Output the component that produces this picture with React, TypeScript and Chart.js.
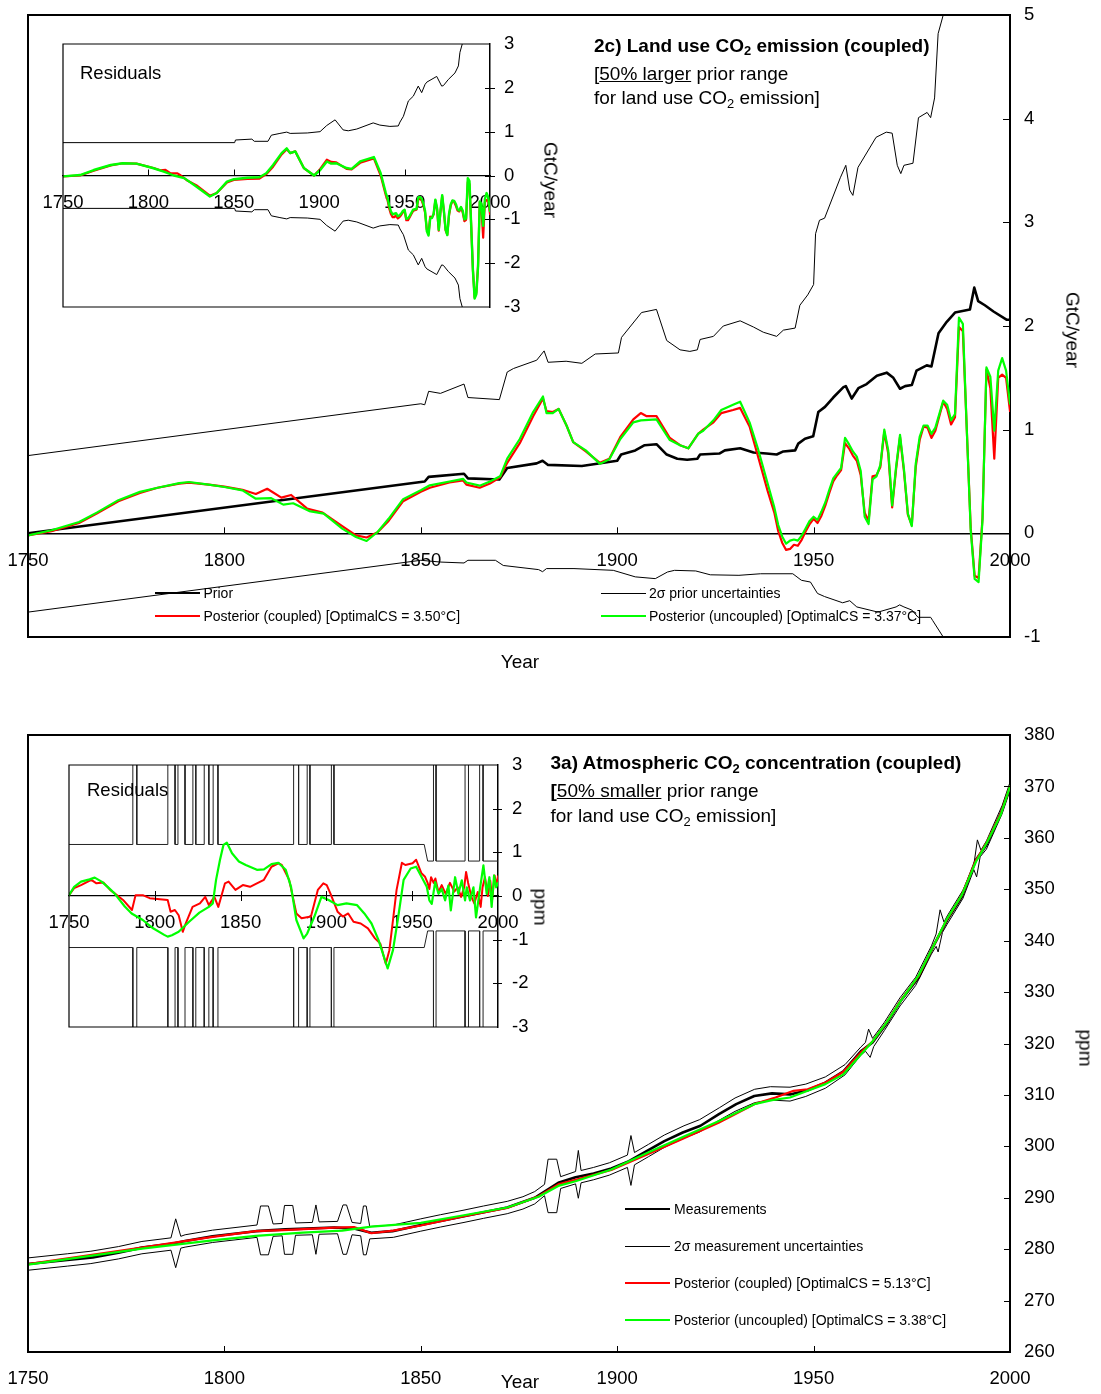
import React, { useEffect, useRef } from "react";
import { Chart, registerables } from "chart.js";

Chart.register(...registerables);

const FONT = "'Liberation Sans', Arial, Helvetica, sans-serif";
const RED = "#ff0000";
const GREEN = "#00ff00";
const BLACK = "#000000";

// ---------- tick labels ----------
const yearTicks = [1750, 1800, 1850, 1900, 1950, 2000];
const emisTicks = [-1, 0, 1, 2, 3, 4, 5];
const residTicks = [-3, -2, -1, 0, 1, 2, 3];
const ppmTicks = [260, 270, 280, 290, 300, 310, 320, 330, 340, 350, 360, 370, 380];

// ---------- 2c) land use CO2 emission (GtC/year) ----------
const emisPriorYears = [1750, 1850, 1851, 1852, 1861, 1862, 1870, 1872, 1879.5, 1881, 1882.4, 1891, 1900, 1901, 1904.6, 1907, 1910, 1912.6, 1915.3, 1917.8, 1920.4, 1921.1, 1926, 1927.4, 1931.3, 1934.7, 1938, 1940.6, 1942.3, 1945.3, 1946.1, 1947.8, 1949.9, 1951.2, 1952.9, 1955, 1957.6, 1958.2, 1959.7, 1961.4, 1963.5, 1966.1, 1968.6, 1970.3, 1972, 1973.3, 1975, 1976.2, 1978.8, 1980, 1981.8, 1983.9, 1986, 1989.8, 1990.9, 1991.9, 1993.6, 1995.8, 1999.2, 2000];
const emisPriorValues = [0, 0.495, 0.5, 0.545, 0.575, 0.53, 0.52, 0.63, 0.675, 0.7, 0.66, 0.65, 0.7, 0.76, 0.8, 0.85, 0.86, 0.76, 0.72, 0.71, 0.72, 0.76, 0.77, 0.8, 0.82, 0.78, 0.77, 0.76, 0.79, 0.8, 0.865, 0.913, 0.936, 1.17, 1.22, 1.31, 1.41, 1.42, 1.3, 1.4, 1.44, 1.52, 1.55, 1.5, 1.395, 1.42, 1.43, 1.57, 1.62, 1.61, 1.93, 2.04, 2.13, 2.16, 2.37, 2.24, 2.2, 2.14, 2.06, 2.06];

const emisUpperYears = [1750, 1850, 1851, 1852, 1855, 1861, 1862, 1870, 1872, 1873.6, 1879.5, 1881.4, 1882.4, 1887, 1891, 1894.4, 1900.3, 1901.1, 1906.2, 1910, 1912.6, 1916, 1918.5, 1920.4, 1921.1, 1924.5, 1927, 1931.3, 1934.7, 1937.2, 1940.6, 1942.3, 1945.3, 1946.5, 1948.5, 1950, 1950.5, 1951.5, 1952.8, 1956.8, 1958.2, 1959.2, 1960, 1961.3, 1965.9, 1968.5, 1970, 1971.3, 1972.2, 1973, 1975.3, 1976.7, 1978.9, 1979.8, 1980.8, 1981.7, 1983, 1985];
const emisUpperValues = [0.75, 1.25, 1.24, 1.37, 1.35, 1.44, 1.31, 1.29, 1.556, 1.59, 1.67, 1.76, 1.65, 1.66, 1.64, 1.73, 1.74, 1.89, 2.13, 2.16, 1.86, 1.77, 1.755, 1.77, 1.87, 1.9, 2.0, 2.05, 1.99, 1.94, 1.9, 1.96, 1.98, 2.2, 2.3, 2.4, 2.89, 3.02, 3.04, 3.43, 3.55, 3.31, 3.26, 3.53, 3.82, 3.87, 3.86, 3.55, 3.47, 3.55, 3.57, 4.01, 4.06, 4.01, 4.2, 4.82, 5.0, 5.3];

const emisLowerYears = [1750, 1850, 1855, 1861, 1862, 1869, 1871, 1880, 1881, 1882, 1889, 1899, 1904.6, 1909.7, 1912.8, 1914.6, 1920, 1923.7, 1931, 1936.5, 1944.7, 1946.9, 1949.2, 1951, 1952.8, 1957.4, 1959.2, 1961, 1966.4, 1971, 1971.9, 1973, 1975, 1976.6, 1979.8, 1980.3, 1983, 1985];
const emisLowerValues = [-0.76, -0.26, -0.277, -0.286, -0.26, -0.26, -0.31, -0.35, -0.37, -0.34, -0.34, -0.357, -0.42, -0.437, -0.373, -0.357, -0.363, -0.4, -0.405, -0.39, -0.39, -0.453, -0.47, -0.58, -0.61, -0.67, -0.65, -0.71, -0.76, -0.71, -0.69, -0.71, -0.74, -0.81, -0.81, -0.84, -1.0, -1.2];

const emisGreenYears = [1750, 1756, 1763, 1767.5, 1773, 1778.5, 1783, 1788.5, 1791, 1796, 1800, 1804.6, 1808, 1811.8, 1815, 1817.5, 1821.6, 1825.3, 1830, 1833.5, 1836.2, 1839, 1841.8, 1845.5, 1850, 1852.3, 1857.3, 1860.8, 1861.6, 1865, 1867.6, 1870.2, 1872, 1875.2, 1878.6, 1881.1, 1882, 1883.6, 1885.1, 1887.1, 1888.8, 1892, 1895.6, 1898, 1900.8, 1904.1, 1906, 1910, 1913.4, 1916, 1918.1, 1920.6, 1921.9, 1924.5, 1926.5, 1929.5, 1931.3, 1933.7, 1935.8, 1938.3];
const emisGreenValues = [-0.02, 0.03, 0.11, 0.2, 0.32, 0.4, 0.44, 0.485, 0.495, 0.47, 0.447, 0.415, 0.334, 0.34, 0.277, 0.29, 0.215, 0.19, 0.045, -0.035, -0.074, 0.013, 0.14, 0.33, 0.415, 0.463, 0.5, 0.525, 0.49, 0.46, 0.5, 0.55, 0.72, 0.91, 1.17, 1.32, 1.16, 1.16, 1.2, 1.04, 0.88, 0.8, 0.67, 0.715, 0.91, 1.07, 1.09, 1.1, 0.9, 0.85, 0.82, 0.96, 0.99, 1.09, 1.19, 1.24, 1.27, 1.07, 0.82, 0.48];

const emisRedYears = [1750, 1756, 1763, 1767.5, 1773, 1778.5, 1783, 1788.5, 1791, 1796, 1800, 1804.6, 1808, 1810.9, 1814.5, 1817, 1821, 1825, 1830, 1833.5, 1836.2, 1839, 1841.8, 1845.5, 1850, 1852.3, 1857.3, 1860.8, 1861.6, 1865, 1867.6, 1870.2, 1872, 1875.2, 1878.6, 1881.1, 1882, 1883.6, 1885.1, 1887.1, 1888.8, 1892, 1895.6, 1898, 1900.8, 1904.1, 1906, 1907.5, 1910, 1913.4, 1916, 1918.1, 1920.6, 1921.9, 1924.5, 1926.5, 1929.5, 1931.3, 1933.7, 1935.8, 1938.3];
const emisRedValues = [-0.02, 0.02, 0.1, 0.19, 0.31, 0.39, 0.44, 0.48, 0.49, 0.47, 0.45, 0.42, 0.38, 0.43, 0.344, 0.37, 0.24, 0.2, 0.07, -0.02, -0.04, 0.01, 0.12, 0.31, 0.4, 0.44, 0.49, 0.51, 0.47, 0.44, 0.48, 0.54, 0.68, 0.87, 1.13, 1.3, 1.18, 1.17, 1.2, 1.04, 0.88, 0.79, 0.68, 0.72, 0.93, 1.1, 1.16, 1.13, 1.13, 0.92, 0.85, 0.82, 0.96, 1.0, 1.07, 1.16, 1.19, 1.21, 1.03, 0.75, 0.41];

// annual values from 1940 onwards
const lateYears = [1940, 1941, 1942, 1943, 1944, 1945, 1946, 1947, 1948, 1949, 1950, 1951, 1952, 1953, 1954, 1955, 1956, 1957, 1958, 1959, 1960, 1961, 1962, 1963, 1964, 1965, 1966, 1967, 1968, 1969, 1970, 1971, 1972, 1973, 1974, 1975, 1976, 1977, 1978, 1979, 1980, 1981, 1982, 1983, 1984, 1985, 1986, 1987, 1988, 1989, 1990, 1991, 1992, 1993, 1994, 1995, 1996, 1997, 1998, 1999, 2000];
const emisGreenLate = [0.25, 0.08, -0.03, -0.1, -0.07, -0.06, -0.07, -0.02, 0.05, 0.12, 0.16, 0.13, 0.21, 0.3, 0.42, 0.53, 0.58, 0.63, 0.92, 0.86, 0.79, 0.74, 0.6, 0.16, 0.09, 0.52, 0.55, 0.66, 1.0, 0.8, 0.27, 0.64, 0.95, 0.62, 0.19, 0.07, 0.67, 0.93, 1.04, 1.04, 0.96, 1.02, 1.15, 1.28, 1.24, 1.09, 1.15, 2.08, 2.02, 1.0, 0.03, -0.44, -0.47, 0.13, 1.6, 1.51, 0.99, 1.57, 1.69, 1.57, 1.25];
const emisRedLate = [0.2, 0.02, -0.09, -0.16, -0.15, -0.11, -0.12, -0.06, 0.02, 0.09, 0.14, 0.1, 0.17, 0.27, 0.39, 0.5, 0.56, 0.61, 0.87, 0.82, 0.75, 0.7, 0.56, 0.2, 0.12, 0.55, 0.56, 0.64, 0.98, 0.77, 0.25, 0.62, 0.93, 0.6, 0.18, 0.08, 0.64, 0.9, 1.03, 1.02, 0.92, 0.99, 1.13, 1.27, 1.2, 1.05, 1.12, 1.99, 1.95, 1.0, 0.05, -0.41, -0.43, 0.15, 1.58, 1.4, 0.72, 1.5, 1.53, 1.5, 1.18];

// residuals inset (posterior minus prior, GtC/year)
const emisSigmaYears = [1750, 1850.5, 1851, 1860.6, 1862, 1870, 1872, 1877, 1881, 1883, 1893, 1900.5, 1904.4, 1909.3, 1914, 1917, 1922, 1931.6, 1935.5, 1941.4, 1946.3, 1947.3, 1949.3, 1952.2, 1955.1, 1958, 1960, 1962, 1963, 1968.8, 1971.7, 1972.7, 1975.6, 1979.5, 1981.5, 1982.4, 1984.4];
const emisSigmaValues = [0.75, 0.75, 0.81, 0.83, 0.78, 0.78, 0.92, 0.96, 0.99, 0.96, 0.97, 1.0, 1.14, 1.27, 1.04, 1.02, 1.06, 1.2, 1.15, 1.12, 1.13, 1.22, 1.35, 1.7, 1.81, 2.04, 1.89, 2.08, 2.13, 2.26, 2.04, 2.05, 2.19, 2.34, 2.5, 2.81, 3.09];

const residGreenYears = [1750, 1760, 1768, 1778, 1785, 1793, 1803, 1809, 1815, 1821, 1828, 1836, 1840, 1846, 1850, 1858, 1865, 1869, 1873, 1878, 1881, 1883, 1886, 1891, 1897, 1900.6, 1904.5, 1907, 1910, 1916, 1919, 1924, 1932, 1936, 1939];
const residGreenValues = [-0.02, 0.01, 0.125, 0.24, 0.28, 0.27, 0.165, 0.09, 0.0, -0.06, -0.25, -0.48, -0.4, -0.14, -0.085, -0.05, -0.04, 0.05, 0.24, 0.51, 0.62, 0.51, 0.55, 0.17, 0.0, 0.125, 0.32, 0.27, 0.28, 0.17, 0.15, 0.32, 0.42, 0.05, -0.4];
const residGreenLate = [-0.51, -0.69, -0.82, -0.89, -0.87, -0.86, -0.93, -0.91, -0.87, -0.81, -0.78, -0.99, -0.98, -0.92, -0.85, -0.78, -0.77, -0.76, -0.5, -0.49, -0.53, -0.64, -0.81, -1.27, -1.37, -0.97, -0.97, -0.87, -0.55, -0.74, -1.24, -0.81, -0.45, -0.8, -1.23, -1.36, -0.88, -0.66, -0.57, -0.58, -0.65, -0.77, -0.8, -0.72, -0.8, -1.0, -0.98, -0.06, -0.13, -1.16, -2.17, -2.81, -2.71, -2.08, -0.59, -0.65, -1.15, -0.54, -0.4, -0.5, -0.81];

const residRedYears = [1750, 1760, 1768, 1778, 1785, 1793, 1803, 1807, 1810, 1813, 1817, 1819, 1823, 1828, 1836, 1840, 1846, 1850, 1858, 1865, 1869, 1873, 1878, 1881, 1883, 1886, 1891, 1897, 1900.6, 1904.5, 1907, 1910, 1916, 1919, 1924, 1932, 1936, 1939];
const residRedValues = [-0.02, 0.0, 0.11, 0.23, 0.28, 0.27, 0.17, 0.12, 0.13, 0.05, 0.05, 0.0, -0.12, -0.22, -0.46, -0.4, -0.16, -0.1, -0.08, -0.07, 0.03, 0.2, 0.48, 0.6, 0.51, 0.55, 0.17, 0.0, 0.15, 0.36, 0.31, 0.3, 0.15, 0.14, 0.29, 0.39, 0.0, -0.45];
const residRedLate = [-0.56, -0.75, -0.88, -0.95, -0.95, -0.91, -0.98, -0.95, -0.9, -0.84, -0.8, -1.02, -1.02, -0.95, -0.88, -0.81, -0.79, -0.78, -0.55, -0.53, -0.57, -0.68, -0.85, -1.23, -1.34, -0.94, -0.96, -0.89, -0.57, -0.77, -1.26, -0.83, -0.47, -0.82, -1.25, -1.35, -0.91, -0.69, -0.58, -0.6, -0.69, -0.8, -0.82, -0.73, -0.84, -1.04, -1.01, -0.15, -0.2, -1.16, -2.15, -2.78, -2.67, -2.06, -0.61, -0.76, -1.42, -0.61, -0.56, -0.57, -0.88];

// ---------- 3a) atmospheric CO2 concentration (ppm) ----------
const ppmMeasYears = [1750, 1760, 1766.5, 1773, 1779, 1787, 1790, 1797, 1808, 1815.6, 1828, 1833, 1837.4, 1842.8, 1850, 1861, 1872, 1879, 1885, 1889.4, 1894, 1898.5, 1903, 1907.6, 1912, 1916.7, 1921.2, 1925.8, 1930.3, 1934.9, 1939.4, 1944, 1948.5, 1953, 1957.6, 1962.2, 1965, 1968.5, 1972.2, 1976.8, 1980.4, 1984, 1987.7, 1991.3, 1994, 1997.7, 2000];
const ppmMeasValues = [277.1, 277.9, 278.4, 279.3, 280.3, 281.1, 281.6, 282.5, 283.5, 283.85, 284.2, 284.0, 283.2, 283.5, 284.7, 286.4, 288.1, 290.0, 292.9, 294.0, 294.7, 295.7, 297.1, 299.1, 301.0, 302.7, 304.0, 306.2, 308.2, 309.8, 310.3, 310.1, 310.9, 312.4, 314.6, 318.6, 320.2, 323.8, 328.3, 332.9, 338.8, 344.0, 348.5, 355.7, 358.6, 364.8, 370.0];

const ppmGreenYears = [1750, 1779, 1797, 1808, 1820, 1830, 1837.4, 1850, 1861, 1872, 1880, 1885, 1889.4, 1898.5, 1907.6, 1916.7, 1925.8, 1934.9, 1939.4, 1944, 1948.5, 1953, 1957.6, 1962.2, 1965, 1968.5, 1972.2, 1976.8, 1980.4, 1984, 1987.7, 1991.3, 1994, 1997.7, 2000];
const ppmGreenValues = [277.0, 280.1, 281.7, 282.6, 283.2, 283.6, 284.4, 285.1, 286.6, 288.1, 290.2, 292.3, 293.2, 295.5, 298.7, 301.8, 304.9, 308.2, 309.0, 309.5, 310.8, 312.1, 314.0, 318.0, 320.4, 324.0, 328.3, 333.3, 338.8, 344.3, 348.8, 355.3, 358.9, 364.6, 370.0];

const ppmRedYears = [1750, 1779, 1797, 1808, 1815, 1828, 1833, 1837.4, 1843, 1850, 1861, 1872, 1880, 1885, 1889.4, 1898.5, 1907.6, 1916.7, 1925.8, 1934.9, 1940.3, 1944.9, 1948.5, 1953, 1957.6, 1962.2, 1965, 1968.5, 1972.2, 1976.8, 1980.4, 1984, 1987.7, 1991.3, 1994, 1997.7, 2000];
const ppmRedValues = [277.1, 280.3, 282.4, 283.5, 283.7, 284.2, 284.3, 283.1, 283.6, 284.6, 286.4, 288.0, 290.3, 292.6, 293.5, 295.4, 298.4, 301.5, 304.6, 308.2, 309.5, 310.8, 311.1, 312.4, 314.5, 318.4, 320.4, 324.0, 328.4, 333.2, 338.8, 344.2, 348.8, 355.6, 359.0, 364.8, 370.0];

// 2-sigma measurement envelope: [year, ppm]
const ppmUpperBand: [number, number][] = [
  [1750, 278.3], [1760, 279.1], [1766, 279.6], [1773, 280.5], [1779, 281.5], [1786.4, 282.2], [1787.6, 285.9], [1788.9, 282.5], [1790, 282.8], [1797, 283.7],
  [1808.3, 284.7], [1809.2, 288.4], [1811.2, 288.4], [1812.4, 284.9], [1814.7, 285.0], [1815.3, 288.5], [1817.4, 288.5], [1818.1, 285.1], [1822.4, 285.2], [1823.3, 288.6],
  [1824.1, 285.3], [1828.8, 285.4], [1830.2, 288.6], [1831.1, 288.6], [1832.5, 285.2], [1834.7, 285.0], [1835.4, 288.4], [1836.1, 288.4], [1837, 284.4], [1843, 284.7],
  [1850, 285.9], [1855, 286.7], [1861, 287.6], [1866, 288.4], [1872, 289.3], [1876, 290.2], [1879, 291.2], [1881.5, 292.6], [1882.4, 297.5], [1884.6, 297.5],
  [1885.6, 294.1], [1889.4, 295.1], [1890.1, 299.2], [1890.8, 295.3], [1894, 295.9], [1898, 296.8], [1902.6, 298.3], [1903.5, 302.1], [1904.4, 298.8], [1908, 300.4],
  [1912, 302.2], [1917, 304.0], [1921, 305.2], [1926, 307.5], [1930, 309.4], [1935, 311.1], [1939, 311.6], [1944, 311.5], [1948, 312.1], [1953, 313.5],
  [1958, 315.9], [1962, 319.3], [1963.2, 320.2], [1964, 322.8], [1965, 321.0], [1968, 324.1], [1972, 328.9], [1976, 332.9], [1980, 339.0], [1981.2, 341.3],
  [1982.2, 346.0], [1983.2, 343.6], [1984, 344.8], [1988, 349.8], [1990.8, 354.8], [1991.7, 359.6], [1992.6, 357.6], [1994, 359.4], [1998, 366.3], [2000, 370.8],
];
const ppmLowerBand: [number, number][] = [
  [1750, 275.9], [1760, 276.7], [1766, 277.2], [1773, 278.1], [1779, 279.1], [1786.4, 279.8], [1787.6, 276.4], [1788.9, 280.2], [1790, 280.4], [1797, 281.3],
  [1808.3, 282.3], [1809.2, 278.9], [1811.2, 278.9], [1812.4, 282.5], [1814.7, 282.6], [1815.3, 279.0], [1817.4, 279.0], [1818.1, 282.7], [1822.4, 282.8], [1823.3, 279.0],
  [1824.1, 282.9], [1828.8, 283.0], [1830.2, 279.0], [1831.1, 279.0], [1832.5, 282.8], [1834.7, 282.6], [1835.4, 278.9], [1836.1, 278.9], [1837, 282.0], [1843, 282.3],
  [1850, 283.5], [1855, 284.3], [1861, 285.2], [1866, 286.0], [1872, 286.9], [1876, 287.8], [1879, 288.8], [1881.5, 290.4], [1882.4, 287.1], [1884.6, 287.1],
  [1885.6, 291.8], [1889.4, 292.7], [1890.1, 289.9], [1890.8, 292.9], [1894, 293.5], [1898, 294.4], [1902.6, 295.9], [1903.5, 292.4], [1904.4, 296.4], [1908, 298.0],
  [1912, 299.8], [1917, 301.6], [1921, 302.8], [1926, 305.1], [1930, 306.8], [1935, 308.5], [1939, 309.0], [1944, 308.8], [1948, 309.7], [1953, 311.3],
  [1958, 313.9], [1962, 317.7], [1963.2, 318.5], [1964.4, 317.3], [1965.3, 319.4], [1968, 322.5], [1972, 327.3], [1976, 331.3], [1980, 337.4], [1981.2, 338.9],
  [1981.7, 337.8], [1982.8, 341.6], [1984, 343.2], [1988, 348.2], [1990.8, 353.8], [1991.5, 352.4], [1992.4, 356.3], [1994, 357.8], [1998, 364.7], [2000, 369.2],
];

// residual inset: 2-sigma measurement uncertainty [year, ppm]
const ppmSigma: [number, number][] = [
  [1750, 1.18], [1787.2, 1.18], [1787.2, 4.7], [1789.5, 4.7], [1789.5, 1.18], [1807.6, 1.18], [1807.6, 4.7], [1811.8, 4.7], [1811.8, 1.18],
  [1813.5, 1.18], [1813.5, 4.7], [1817.6, 4.7], [1817.6, 1.18], [1822.2, 1.18], [1822.2, 4.7], [1823.9, 4.7], [1823.9, 1.18],
  [1828.8, 1.18], [1828.8, 4.7], [1831.5, 4.7], [1831.5, 1.18], [1834, 1.18], [1834, 4.7], [1836.8, 4.7], [1836.8, 1.18],
  [1880.9, 1.18], [1880.9, 4.7], [1883.8, 4.7], [1883.8, 1.18], [1888.8, 1.18], [1888.8, 4.7], [1890.4, 4.7], [1890.4, 1.18],
  [1902.9, 1.18], [1902.9, 4.7], [1904.4, 4.7], [1904.4, 1.18], [1957, 1.18], [1959, 0.8], [1962.4, 0.8], [1962.4, 4.7], [1963.9, 4.7], [1963.9, 0.8],
  [1980.8, 0.8], [1980.8, 4.7], [1982.8, 4.7], [1982.8, 0.8], [1989.3, 0.8], [1989.3, 4.7], [1991.3, 4.7], [1991.3, 0.8], [2000, 0.8],
];

const ppmResidGreenYears = [1750, 1753, 1757, 1762, 1765, 1769, 1772.5, 1776.5, 1782.5, 1786.5, 1793, 1799, 1805.5, 1807.5, 1810, 1813.9, 1820, 1826, 1831.5, 1833.8, 1835.7, 1838, 1840, 1842, 1845, 1849, 1853, 1859.5, 1863.6, 1868, 1872, 1876.3, 1879.4, 1882.5, 1886.7, 1888.8, 1893, 1897.1, 1901.3, 1906.5, 1911.7, 1917.9, 1922.1, 1926.3, 1930.4, 1935.7, 1938.8, 1941.9, 1945, 1949.1, 1952.3, 1955.4, 1958.5, 1960, 1961.4, 1963.4, 1965.3, 1967.2, 1969.2, 1971.1, 1972.5, 1975, 1976.9, 1978.9, 1980.8, 1981.8, 1983.7, 1985.7, 1987.2, 1989.2, 1991.5, 1993.4, 1995, 1996.3, 1997.7, 1998.9, 2000];
const ppmResidGreenValues = [0.02, 0.21, 0.33, 0.38, 0.42, 0.33, 0.21, 0.06, -0.24, -0.4, -0.55, -0.74, -0.89, -0.93, -0.9, -0.82, -0.59, -0.38, -0.25, -0.17, 0.37, 0.83, 1.17, 1.22, 0.98, 0.79, 0.71, 0.6, 0.61, 0.73, 0.76, 0.6, 0.21, -0.55, -0.97, -0.86, -0.47, -0.02, -0.09, -0.21, -0.17, -0.21, -0.4, -0.63, -1.01, -1.66, -1.24, -0.47, 0.37, 0.63, 0.67, 0.44, 0.21, -0.1, -0.18, 0.32, 0.05, 0.16, -0.1, 0.24, -0.33, 0.43, 0.05, 0.36, -0.1, 0.2, -0.1, 0.2, -0.49, 0.09, 0.7, 0.05, 0.43, -0.25, 0.47, 0.2, 0.3];

const ppmResidRedYears = [1750, 1753, 1757, 1763, 1766, 1770, 1774, 1781.5, 1786.7, 1788.8, 1793, 1797, 1807.5, 1809.2, 1811.7, 1813.9, 1816.3, 1818, 1822, 1826.3, 1829.4, 1831.5, 1834.7, 1837, 1840.9, 1843, 1847, 1851.3, 1855.5, 1859.5, 1863.6, 1868, 1872, 1874, 1878.3, 1882.5, 1885.5, 1891, 1895, 1898.2, 1900.2, 1902.3, 1906.5, 1909.6, 1912.7, 1915.8, 1920, 1924.2, 1928.3, 1931.4, 1934.6, 1936.7, 1938.8, 1940.9, 1944, 1946, 1950.2, 1952.3, 1955.4, 1957.5, 1959, 1960, 1961, 1962.5, 1963.5, 1965.3, 1967.2, 1969.5, 1972, 1974.5, 1976.5, 1978.5, 1980.3, 1981.4, 1982.6, 1984.5, 1986.2, 1988.2, 1989.9, 1991, 1992.4, 1994.1, 1995.5, 1996.6, 1998, 1999, 2000];
const ppmResidRedValues = [0.02, 0.18, 0.25, 0.37, 0.29, 0.31, 0.14, -0.09, -0.32, 0.02, 0.02, -0.05, -0.09, -0.36, -0.32, -0.44, -0.82, -0.63, -0.25, -0.17, -0.02, -0.21, -0.02, -0.25, 0.29, 0.33, 0.14, 0.25, 0.21, 0.29, 0.37, 0.67, 0.75, 0.71, 0.37, -0.4, -0.51, -0.47, 0.14, 0.29, 0.25, 0.06, -0.36, -0.47, -0.4, -0.59, -0.63, -0.74, -0.97, -1.09, -1.55, -1.24, -0.55, 0.14, 0.76, 0.71, 0.75, 0.83, 0.52, 0.44, 0.3, 0.16, 0.43, 0.3, 0.4, 0.09, 0.25, 0.05, 0.3, 0.1, 0.2, -0.02, 0.2, 0.55, 0.3, -0.02, -0.17, 0.09, -0.25, 0.2, 0.43, 0.0, 0.35, -0.08, 0.47, 0.25, 0.45];

// ---------- helpers ----------
type Pt = { x: number; y: number };
const zip = (xs: number[], ys: number[]): Pt[] => xs.map((x, i) => ({ x, y: ys[i] }));
const fromPairs = (p: [number, number][], sign = 1): Pt[] => p.map(([x, y]) => ({ x, y: sign * y }));

type Line = { data: Pt[]; color: string; width: number; order: number };
type PanelDef = {
  box: [number, number, number, number]; // canvas left, top, width, height
  area: [number, number, number, number]; // plot area left, top, right, bottom
  y: [number, number];
  yTicks: number[];
  xAxisAt: number | null; // y value carrying the year axis; null = bottom edge
  lines: Line[];
  frameWidth: number;
  xAxisWidth: number;
  yAxisWidth: number;
  xTickUp: number;
  xTickDown: number;
  yTickIn: number;
  yTickOut: number;
};

const emisMain: PanelDef = {
  box: [0, 0, 1101, 700],
  area: [28, 15, 1010, 637],
  y: [-1, 5],
  yTicks: emisTicks,
  xAxisAt: 0,
  frameWidth: 2,
  xAxisWidth: 1.5,
  yAxisWidth: 2,
  xTickUp: 6,
  xTickDown: 0,
  yTickIn: 7,
  yTickOut: 0,
  lines: [
    { data: zip(emisGreenYears.concat(lateYears), emisGreenValues.concat(emisGreenLate)), color: GREEN, width: 2.2, order: 0 },
    { data: zip(emisRedYears.concat(lateYears), emisRedValues.concat(emisRedLate)), color: RED, width: 2.2, order: 1 },
    { data: zip(emisPriorYears, emisPriorValues), color: BLACK, width: 2.6, order: 2 },
    { data: zip(emisUpperYears, emisUpperValues), color: BLACK, width: 1, order: 3 },
    { data: zip(emisLowerYears, emisLowerValues), color: BLACK, width: 1, order: 3 },
  ],
};

const emisInset: PanelDef = {
  box: [30, 30, 570, 300],
  area: [63, 44, 490, 307],
  y: [-3, 3],
  yTicks: residTicks,
  xAxisAt: 0,
  frameWidth: 1.2,
  xAxisWidth: 1.2,
  yAxisWidth: 1.5,
  xTickUp: 6,
  xTickDown: 0,
  yTickIn: 5,
  yTickOut: 5,
  lines: [
    { data: zip(residGreenYears.concat(lateYears), residGreenValues.concat(residGreenLate)), color: GREEN, width: 2.4, order: 0 },
    { data: zip(residRedYears.concat(lateYears), residRedValues.concat(residRedLate)), color: RED, width: 2.2, order: 1 },
    { data: zip(emisSigmaYears, emisSigmaValues), color: BLACK, width: 1, order: 2 },
    { data: zip(emisSigmaYears, emisSigmaValues.map((v) => -v)), color: BLACK, width: 1, order: 2 },
  ],
};

const ppmMain: PanelDef = {
  box: [0, 705, 1101, 689],
  area: [28, 735, 1010, 1352],
  y: [260, 380],
  yTicks: ppmTicks,
  xAxisAt: null,
  frameWidth: 2,
  xAxisWidth: 2,
  yAxisWidth: 2,
  xTickUp: 6,
  xTickDown: 0,
  yTickIn: 6,
  yTickOut: 0,
  lines: [
    { data: zip(ppmGreenYears, ppmGreenValues), color: GREEN, width: 2.2, order: 0 },
    { data: zip(ppmRedYears, ppmRedValues), color: RED, width: 2.2, order: 1 },
    { data: zip(ppmMeasYears, ppmMeasValues), color: BLACK, width: 2.6, order: 2 },
    { data: fromPairs(ppmUpperBand), color: BLACK, width: 1, order: 3 },
    { data: fromPairs(ppmLowerBand), color: BLACK, width: 1, order: 3 },
  ],
};

const ppmInset: PanelDef = {
  box: [30, 750, 580, 300],
  area: [69, 765, 498, 1027],
  y: [-3, 3],
  yTicks: residTicks,
  xAxisAt: 0,
  frameWidth: 1.2,
  xAxisWidth: 1.2,
  yAxisWidth: 1.5,
  xTickUp: 5,
  xTickDown: 5,
  yTickIn: 5,
  yTickOut: 4,
  lines: [
    { data: zip(ppmResidGreenYears, ppmResidGreenValues), color: GREEN, width: 2.2, order: 0 },
    { data: zip(ppmResidRedYears, ppmResidRedValues), color: RED, width: 2, order: 1 },
    { data: fromPairs(ppmSigma), color: "#222", width: 1, order: 2 },
    { data: fromPairs(ppmSigma, -1), color: "#222", width: 1, order: 2 },
  ],
};

// keep the plot area exactly where the layout padding puts it
const noScalePadding = (s: any) => {
  s.paddingLeft = 0;
  s.paddingRight = 0;
  s.paddingTop = 0;
  s.paddingBottom = 0;
};

function Panel({ def }: { def: PanelDef }) {
  const ref = useRef<HTMLCanvasElement>(null);
  useEffect(() => {
    const canvas = ref.current;
    if (!canvas) return;
    const [bl, bt, bw, bh] = def.box;
    const [al, at, ar, ab] = def.area;
    const tickFont = { family: FONT, size: 18.5 };

    // frame on the open sides plus tick marks
    const decor = {
      id: "panelDecor",
      afterDraw(chart: any) {
        const { ctx, chartArea: a, scales } = chart;
        ctx.save();
        ctx.strokeStyle = BLACK;
        ctx.lineWidth = def.frameWidth;
        ctx.beginPath();
        ctx.moveTo(a.right, a.top);
        ctx.lineTo(a.left, a.top);
        ctx.lineTo(a.left, a.bottom);
        ctx.lineTo(a.right, a.bottom);
        ctx.stroke();
        ctx.lineWidth = 1;
        const axisY = def.xAxisAt === null ? a.bottom : scales.y.getPixelForValue(def.xAxisAt);
        ctx.beginPath();
        yearTicks.slice(1, -1).forEach((v) => {
          const px = Math.round(scales.x.getPixelForValue(v)) + 0.5;
          ctx.moveTo(px, axisY + def.xTickDown);
          ctx.lineTo(px, axisY - def.xTickUp);
        });
        def.yTicks.slice(1, -1).forEach((v) => {
          const py = Math.round(scales.y.getPixelForValue(v)) + 0.5;
          ctx.moveTo(a.right - def.yTickIn, py);
          ctx.lineTo(a.right + def.yTickOut, py);
        });
        ctx.stroke();
        ctx.restore();
      },
    };

    const chart = new Chart(canvas, {
      type: "line",
      data: {
        datasets: def.lines.map((l) => ({
          data: l.data,
          borderColor: l.color,
          backgroundColor: l.color,
          borderWidth: l.width,
          pointRadius: 0,
          pointHoverRadius: 0,
          fill: false,
          tension: 0,
          order: l.order,
          borderJoinStyle: "round" as const,
          borderCapStyle: "round" as const,
        })),
      },
      options: {
        responsive: false,
        maintainAspectRatio: false,
        animation: false,
        devicePixelRatio: 1,
        events: [],
        layout: {
          padding: {
            left: al - bl,
            top: at - bt,
            right: 0,
            bottom: def.xAxisAt === null ? 0 : bt + bh - ab,
          },
        },
        plugins: { legend: { display: false }, tooltip: { enabled: false } },
        scales: {
          x: {
            type: "linear",
            min: 1750,
            max: 2000,
            position: def.xAxisAt === null ? "bottom" : { y: def.xAxisAt },
            grid: { display: false, drawTicks: false },
            border: { display: true, color: BLACK, width: def.xAxisWidth },
            ticks: {
              font: tickFont,
              color: BLACK,
              padding: 16,
              maxRotation: 0,
              autoSkip: false,
              callback: (v: any) => String(v),
            },
            afterBuildTicks: (s: any) => {
              s.ticks = yearTicks.map((value) => ({ value }));
            },
            afterFit: (s: any) => {
              if (def.xAxisAt === null) s.height = bt + bh - ab;
              noScalePadding(s);
            },
          },
          y: {
            type: "linear",
            position: "right",
            min: def.y[0],
            max: def.y[1],
            grid: { display: false, drawTicks: false },
            border: { display: true, color: BLACK, width: def.yAxisWidth },
            ticks: {
              font: tickFont,
              color: BLACK,
              padding: 14,
              callback: (v: any) => String(v),
            },
            afterBuildTicks: (s: any) => {
              s.ticks = def.yTicks.map((value) => ({ value }));
            },
            afterFit: (s: any) => {
              s.width = bl + bw - ar;
              noScalePadding(s);
            },
          },
        },
      } as any,
      plugins: [decor],
    });
    return () => chart.destroy();
  }, [def]);

  return (
    <canvas
      ref={ref}
      width={def.box[2]}
      height={def.box[3]}
      style={{ position: "absolute", left: def.box[0], top: def.box[1], width: def.box[2], height: def.box[3] }}
    />
  );
}

// ---------- text pieces ----------
const Sub = ({ children }: { children: React.ReactNode }) => (
  <span style={{ fontSize: "0.68em", position: "relative", top: "0.3em", lineHeight: 0 }}>{children}</span>
);

function Text({ x, cy, size = 19, bold = false, center = false, children }: { x: number; cy: number; size?: number; bold?: boolean; center?: boolean; children: React.ReactNode }) {
  return (
    <div
      style={{
        position: "absolute",
        left: x,
        top: cy - size * 0.6,
        fontSize: size,
        lineHeight: `${size * 1.2}px`,
        fontFamily: FONT,
        fontWeight: bold ? "bold" : "normal",
        whiteSpace: "nowrap",
        color: BLACK,
        transform: center ? "translateX(-50%)" : undefined,
      }}
    >
      {children}
    </div>
  );
}

function VText({ cx, cy, size = 19, children }: { cx: number; cy: number; size?: number; children: React.ReactNode }) {
  return (
    <div
      style={{
        position: "absolute",
        left: cx,
        top: cy,
        fontSize: size,
        lineHeight: `${size * 1.2}px`,
        fontFamily: FONT,
        whiteSpace: "nowrap",
        color: BLACK,
        transform: "translate(-50%, -50%) rotate(90deg)",
      }}
    >
      {children}
    </div>
  );
}

function Swatch({ x1, x2, cy, w, color }: { x1: number; x2: number; cy: number; w: number; color: string }) {
  return <div style={{ position: "absolute", left: x1, top: cy - w / 2, width: x2 - x1, height: w, background: color }} />;
}

export default function App() {
  return (
    <div style={{ position: "absolute", left: 0, top: 0, width: 1101, height: 1394, background: "#fff", overflow: "hidden" }}>
      <Panel def={emisMain} />
      <Panel def={emisInset} />
      <Panel def={ppmMain} />
      <Panel def={ppmInset} />

      {/* 2c */}
      <Text x={594} cy={46} bold>
        2c) Land use CO<Sub>2</Sub> emission (coupled)
      </Text>
      <Text x={594} cy={74}>
        [<span style={{ textDecoration: "underline" }}>50% larger</span> prior range
      </Text>
      <Text x={594} cy={98.5}>
        for land use CO<Sub>2</Sub> emission]
      </Text>
      <Text x={80} cy={73} size={18.5}>Residuals</Text>
      <VText cx={550} cy={180}>GtC/year</VText>
      <VText cx={1072} cy={330}>GtC/year</VText>
      <Text x={520} cy={662} center>Year</Text>

      <Swatch x1={155} x2={200} cy={593} w={2.6} color={BLACK} />
      <Text x={203.5} cy={593} size={14}>Prior</Text>
      <Swatch x1={155} x2={200} cy={616} w={2} color={RED} />
      <Text x={203.5} cy={616} size={14}>Posterior (coupled) [OptimalCS = 3.50°C]</Text>
      <Swatch x1={600.5} x2={645.5} cy={593} w={1} color={BLACK} />
      <Text x={649} cy={593} size={14}>2σ prior uncertainties</Text>
      <Swatch x1={600.5} x2={645.5} cy={616} w={2} color={GREEN} />
      <Text x={649} cy={616} size={14}>Posterior (uncoupled) [OptimalCS = 3.37°C]</Text>

      {/* 3a */}
      <Text x={550.5} cy={763.5} bold>
        3a) Atmospheric CO<Sub>2</Sub> concentration (coupled)
      </Text>
      <Text x={550.5} cy={791}>
        <b>[</b>
        <span style={{ textDecoration: "underline" }}>50% smaller</span> prior range
      </Text>
      <Text x={550.5} cy={816.5}>
        for land use CO<Sub>2</Sub> emission]
      </Text>
      <Text x={87} cy={790} size={18.5}>Residuals</Text>
      <VText cx={540} cy={907}>ppm</VText>
      <VText cx={1085} cy={1048}>ppm</VText>
      <Text x={520} cy={1382} center>Year</Text>

      <Swatch x1={625} x2={670} cy={1209} w={2.6} color={BLACK} />
      <Text x={674} cy={1209} size={14}>Measurements</Text>
      <Swatch x1={625} x2={670} cy={1246} w={1} color={BLACK} />
      <Text x={674} cy={1246} size={14}>2σ measurement uncertainties</Text>
      <Swatch x1={625} x2={670} cy={1283} w={2} color={RED} />
      <Text x={674} cy={1283} size={14}>Posterior (coupled) [OptimalCS = 5.13°C]</Text>
      <Swatch x1={625} x2={670} cy={1320} w={2} color={GREEN} />
      <Text x={674} cy={1320} size={14}>Posterior (uncoupled) [OptimalCS = 3.38°C]</Text>
    </div>
  );
}
